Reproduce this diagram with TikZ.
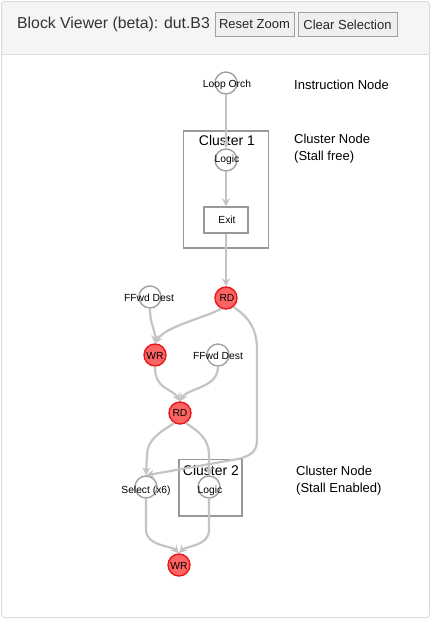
\documentclass[tikz,border=0pt]{standalone}
\usepackage{fontspec}
\setmainfont{Liberation Sans}
\usetikzlibrary{arrows.meta}
\definecolor{edgec}{HTML}{C4C4C4}
\definecolor{nodeb}{HTML}{A0A0A0}
\definecolor{boxb}{HTML}{999999}
\definecolor{redf}{HTML}{FF6464}
\definecolor{redb}{HTML}{E81818}
\definecolor{hdr}{HTML}{F5F5F5}
\definecolor{framec}{HTML}{DDDDDD}
\definecolor{btnf}{HTML}{EFEFEF}
\tikzset{
  cnode/.style={circle,draw=nodeb,line width=1.4pt,fill=white,minimum size=22pt,inner sep=0pt},
  rnode/.style={circle,draw=redb,line width=1.4pt,fill=redf,minimum size=22pt,inner sep=0pt},
  lbl/.style={font=\fontsize{10.3}{12}\selectfont,inner sep=0pt},
  edge/.style={draw=edgec,line width=2.2pt,-{Stealth[length=8pt,width=8pt]}},
  clusterbox/.style={draw=boxb,line width=1.4pt},
  clabel/.style={font=\fontsize{14}{16}\selectfont,inner sep=0pt},
  legend/.style={font=\fontsize{13}{17}\selectfont,align=left,anchor=west,inner sep=0pt},
  btn/.style={draw=nodeb,fill=btnf,line width=0.8pt,font=\fontsize{13}{15}\selectfont,inner sep=0pt,minimum height=24pt,text=black!85}
}
\begin{document}
\begin{tikzpicture}[x=1pt,y=-1pt]
\useasboundingbox (0,0) rectangle (431,619);
% frame and header
\fill[white,rounded corners=3pt] (1.5,1.5) rectangle (429.5,617.5);
\fill[hdr,rounded corners=3pt] (1.5,1.5) rectangle (429.5,20);
\fill[hdr] (1.5,10) rectangle (429.5,54);
\draw[framec,line width=1pt] (1.5,54) -- (429.5,54);
\draw[framec,line width=1pt,rounded corners=3pt] (1.5,1.5) rectangle (429.5,617.5);
\node[anchor=west,inner sep=0pt,font=\fontsize{15.8}{18}\selectfont,text=black!80] (title) at (17,24) {Block Viewer (beta): dut.B3};
\node[btn,minimum width=79pt] (reset) at (254.5,24.5) {Reset Zoom};
\node[btn,minimum width=99pt] (clear) at (347.5,24.5) {Clear Selection};
% clusters
\draw[clusterbox] (183.5,131) rectangle (268.5,248);
\node[clabel] (c1) at (227,140) {Cluster 1};
\draw[clusterbox] (179,459.5) rectangle (242,516);
\node[clabel] (c2) at (211,470) {Cluster 2};
% nodes
\node[cnode] (lo) at (226,83) {};
\node[cnode] (lg1) at (226,160) {};
\node[draw=boxb,line width=1.4pt,fill=white,minimum width=44pt,minimum height=26pt,inner sep=0pt] (exit) at (226,220) {};
\node[rnode] (rd1) at (226,298) {};
\node[cnode] (ff1) at (150,297) {};
\node[rnode] (wr1) at (155,355) {};
\node[cnode] (ff2) at (218,355) {};
\node[rnode] (rd2) at (180,413) {};
\node[cnode] (sel) at (146,487) {};
\node[cnode] (lg2) at (209,487) {};
\node[rnode] (wr2) at (179,565) {};
% edges
\draw[edge] (lo.south) -- (lg1.north);
\draw[edge] (lg1.south) -- (exit.north);
\draw[edge] (exit.south) -- (rd1.north);
\draw[edge] (ff1.south) .. controls (150,325) and (155,328) .. (wr1.north);
\draw[edge] (rd1.-115) .. controls (205,318) and (166,326) .. (wr1.north);
\draw[edge] (rd1.-50) .. controls (250,318) and (257,330) .. (257,350) -- (257,440) .. controls (257,452) and (250,456) .. (238,459) -- (sel.north);
\draw[edge] (wr1.south) .. controls (155,390) and (172,388) .. (rd2.north);
\draw[edge] (ff2.south) .. controls (218,388) and (188,388) .. (rd2.north);
\draw[edge] (rd2.-120) .. controls (160,432) and (147,440) .. (147,455) -- (sel.north);
\draw[edge] (rd2.-60) .. controls (200,432) and (209,440) .. (209,455) -- (lg2.north);
\draw[edge] (sel.south) -- (146,530) .. controls (146,546) and (172,546) .. (wr2.north);
\draw[edge] (lg2.south) -- (209,530) .. controls (209,546) and (186,546) .. (wr2.north);
% labels
\node[lbl] at (227,85) {Loop Orch};
\node[lbl] at (227,160) {Logic};
\node[lbl] at (227,220) {Exit};
\node[lbl] at (227,298) {RD};
\node[lbl] at (149,298) {FFwd Dest};
\node[lbl] at (155,356) {WR};
\node[lbl] at (218,356) {FFwd Dest};
\node[lbl] at (180,413) {RD};
\node[lbl] at (146,491) {Select (x6)};
\node[lbl] at (210,491) {Logic};
\node[lbl] at (179,566) {WR};
% legends
\node[legend] (l1) at (294,85) {Instruction Node};
\node[legend] (l2) at (294,148.5) {Cluster Node\\(Stall free)};
\node[legend] (l3) at (296,480.5) {Cluster Node\\(Stall Enabled)};
\end{tikzpicture}
\end{document}
